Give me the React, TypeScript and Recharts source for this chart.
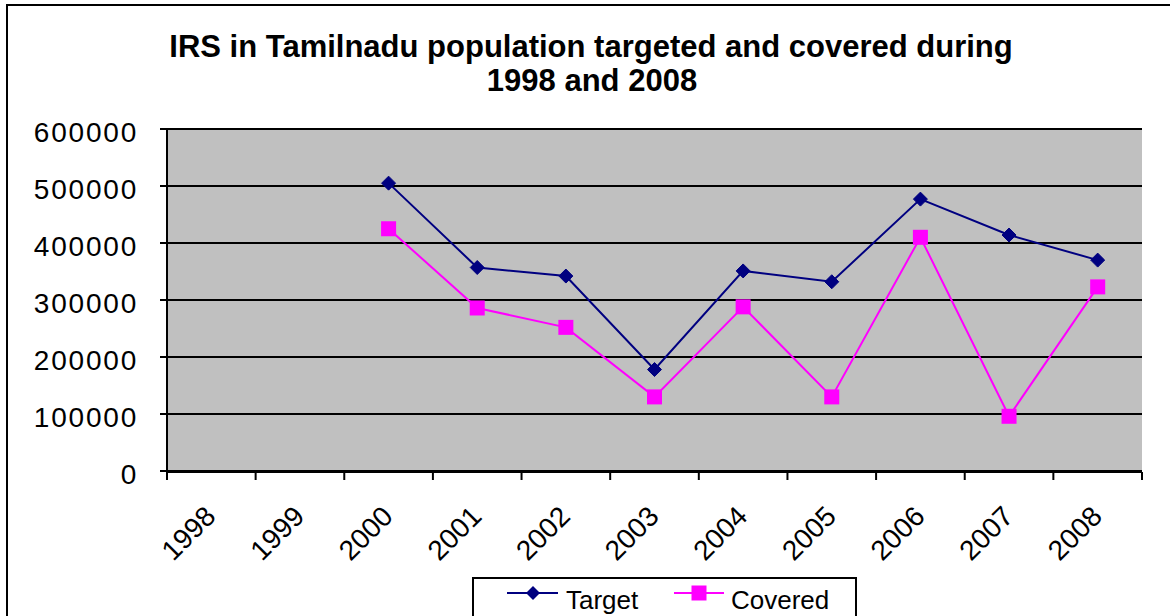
import React from "react";
import { LineChart, Line, XAxis, YAxis, CartesianGrid } from "recharts";

const years = ["1998", "1999", "2000", "2001", "2002", "2003", "2004", "2005", "2006", "2007", "2008"];
const target: (number | null)[] = [null, null, 505000, 357000, 342000, 178000, 351000, 332000, 477000, 414000, 370000];
const covered: (number | null)[] = [null, null, 425000, 286000, 252000, 130000, 288000, 130000, 410000, 96000, 323000];
const yTicks = [0, 100000, 200000, 300000, 400000, 500000, 600000];

const data = years.map((year, i) => ({ year, idx: i, Target: target[i], Covered: covered[i] }));
const edgeTicks = years.map((_, i) => i - 0.5).concat(years.length - 0.5);

const FONT = "'Liberation Sans', Arial, sans-serif";
const NAVY = "#000080";
const MAGENTA = "#FF00FF";

const Diamond = (props: any) => {
  const { cx, cy } = props;
  if (cx == null || cy == null || props.value == null) return null;
  const r = 7;
  return <path d={`M${cx},${cy - r}L${cx + r},${cy}L${cx},${cy + r}L${cx - r},${cy}Z`} fill={NAVY} stroke={NAVY} strokeWidth={1} />;
};

const Square = (props: any) => {
  const { cx, cy } = props;
  if (cx == null || cy == null || props.value == null) return null;
  const h = 7.5;
  return <rect x={cx - h} y={cy - h} width={h * 2} height={h * 2} fill={MAGENTA} />;
};

const XTick = (props: any) => {
  const { x, y, payload } = props;
  const ax = x + 6;
  const ay = y + 47;
  return (
    <text x={ax} y={ay} textAnchor="end" transform={`rotate(-45, ${ax}, ${ay})`} fontSize={28} fontFamily={FONT} fill="#000">
      {payload.value}
    </text>
  );
};

const YTick = (props: any) => {
  const { x, y, payload } = props;
  return (
    <text x={x} y={y + 13} textAnchor="end" fontSize={28} fontFamily={FONT} fill="#000" letterSpacing={1.8}>
      {payload.value}
    </text>
  );
};

export default function App() {
  return (
    <div style={{ position: "fixed", left: 0, top: 0, width: 1170, height: 616, overflow: "hidden", background: "#fff" }}>
      <div style={{ position: "absolute", left: 6, top: 4, width: 1300, height: 800, border: "2px solid #000", boxSizing: "border-box" }} />
      <svg width={1170} height={110} style={{ position: "absolute", left: 0, top: 0 }}>
        <text x={591} y={57} textAnchor="middle" fontSize={31} fontWeight="bold" fontFamily={FONT} fill="#000">
          IRS in Tamilnadu population targeted and covered during
        </text>
        <text x={592} y={91} textAnchor="middle" fontSize={31} fontWeight="bold" fontFamily={FONT} fill="#000">
          1998 and 2008
        </text>
      </svg>
      <div style={{ position: "absolute", left: 0, top: 0 }}>
        <LineChart width={1170} height={616} data={data} margin={{ top: 129, right: 28, left: 7, bottom: 136 }}>
          <CartesianGrid vertical={false} horizontal={true} stroke="#000" strokeWidth={2} fill="#C0C0C0" fillOpacity={1} />
          <XAxis
            xAxisId="edges"
            dataKey="idx"
            type="number"
            domain={[-0.5, years.length - 0.5]}
            ticks={edgeTicks}
            tickFormatter={() => ""}
            tickSize={8}
            height={8}
            axisLine={{ stroke: "#000", strokeWidth: 2 }}
            tickLine={{ stroke: "#000", strokeWidth: 2 }}
            allowDataOverflow
          />
          <XAxis
            dataKey="year"
            scale="band"
            axisLine={false}
            tickLine={false}
            tickSize={0}
            tickMargin={0}
            height={1}
            interval={0}
            tick={<XTick />}
          />
          <XAxis xAxisId="top" orientation="top" type="number" domain={[0, 1]} ticks={[]} height={0} tick={false} tickLine={false} axisLine={{ stroke: "#808080", strokeWidth: 2 }} />
          <YAxis
            domain={[0, 600000]}
            ticks={yTicks}
            width={160}
            tickSize={7}
            tickMargin={22}
            interval={0}
            axisLine={{ stroke: "#000", strokeWidth: 2 }}
            tickLine={{ stroke: "#000", strokeWidth: 2 }}
            tick={<YTick />}
          />
          <YAxis yAxisId="right" orientation="right" domain={[0, 1]} ticks={[]} width={0} tick={false} tickLine={false} axisLine={{ stroke: "#808080", strokeWidth: 2 }} />
          <Line dataKey="Target" stroke={NAVY} strokeWidth={2} dot={<Diamond />} activeDot={false} isAnimationActive={false} connectNulls={false} />
          <Line dataKey="Covered" stroke={MAGENTA} strokeWidth={2} dot={<Square />} activeDot={false} isAnimationActive={false} connectNulls={false} />
        </LineChart>
      </div>
      <div style={{ position: "absolute", left: 472, top: 577, width: 385, height: 60, border: "2px solid #000", boxSizing: "border-box", background: "#fff" }}>
        <svg width={385} height={60} style={{ position: "absolute", left: -2, top: -2 }}>
          <line x1={35} y1={16} x2={86} y2={16} stroke={NAVY} strokeWidth={2} />
          <path d="M61,9L68,16L61,23L54,16Z" fill={NAVY} />
          <text x={94} y={32} fontSize={26} fontFamily={FONT} fill="#000">Target</text>
          <line x1={202} y1={16} x2={252} y2={16} stroke={MAGENTA} strokeWidth={2} />
          <rect x={219.5} y={8.5} width={15} height={15} fill={MAGENTA} />
          <text x={259} y={32} fontSize={26} fontFamily={FONT} fill="#000">Covered</text>
        </svg>
      </div>
    </div>
  );
}
